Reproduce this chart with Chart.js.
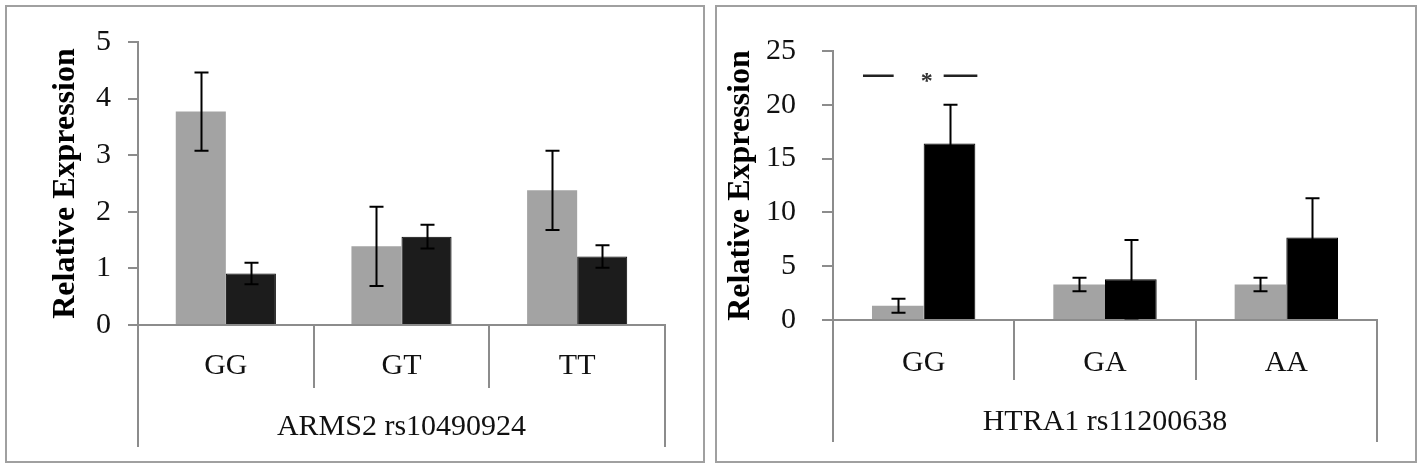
<!DOCTYPE html>
<html>
<head>
<meta charset="utf-8">
<script src="https://cdn.jsdelivr.net/npm/chart.js@4.4.1/dist/chart.umd.min.js"></script>
<style>
  html, body { margin: 0; padding: 0; background: #fff; }
  body { width: 1418px; height: 469px; position: relative; overflow: hidden; }
  .panel { position: absolute; top: 5px; height: 458px; border: 2px solid #a0a0a0; box-sizing: border-box; }
  #panelL { left: 5px; width: 700px; }
  #panelR { left: 715px; width: 702px; }
  canvas { display: block; }
</style>
</head>
<body>
<div class="panel" id="panelL"><canvas id="chartL" width="696" height="454"></canvas></div>
<div class="panel" id="panelR"><canvas id="chartR" width="698" height="454"></canvas></div>
<script>
// ---- data ----
const genotypesL = ['GG', 'GT', 'TT'];
const greyL = [3.77, 1.39, 2.38];
const greyErrL = [0.69, 0.70, 0.70];
const blackL = [0.91, 1.56, 1.21];
const blackErrL = [0.19, 0.21, 0.20];
const ticksL = [0, 1, 2, 3, 4, 5];

const genotypesR = ['GG', 'GA', 'AA'];
const greyR = [1.33, 3.30, 3.30];
const greyErrR = [0.65, 0.62, 0.62];
const blackR = [16.4, 3.78, 7.67];
const blackErrR = [3.6, 3.65, 3.65];
const ticksR = [0, 5, 10, 15, 20, 25];
const sigLevelR = 22.7;   // height of the "* " significance bracket over GG

const serif = '"Liberation Serif", "DejaVu Serif", serif';
const axisGrey = '#8c8c8c';

// error bars drawn from each dataset's errors array
const errorBars = {
  id: 'errorBars',
  afterDatasetsDraw(chart) {
    const ctx = chart.ctx;
    const y = chart.scales.y;
    chart.data.datasets.forEach((ds, i) => {
      const meta = chart.getDatasetMeta(i);
      meta.data.forEach((bar, j) => {
        const v = ds.data[j], e = ds.errors[j];
        const top = y.getPixelForValue(v + e);
        const bot = y.getPixelForValue(v - e);
        const x = Math.round(bar.x) + 0.5;
        ctx.save();
        ctx.strokeStyle = '#000';
        ctx.lineWidth = 2;
        ctx.beginPath();
        ctx.moveTo(x, top); ctx.lineTo(x, bot);
        ctx.moveTo(x - 7, top); ctx.lineTo(x + 7, top);
        ctx.moveTo(x - 7, bot); ctx.lineTo(x + 7, bot);
        ctx.stroke();
        ctx.restore();
      });
    });
  }
};

// the two outer category lines run down past the group label
const outerLines = {
  id: 'outerLines',
  afterDraw(chart, args, opts) {
    const ctx = chart.ctx;
    const xs = chart.scales.x;
    ctx.save();
    ctx.strokeStyle = axisGrey;
    ctx.lineWidth = 2;
    ctx.beginPath();
    [xs.left, xs.right].forEach(px => {
      ctx.moveTo(px, xs.top);
      ctx.lineTo(px, opts.bottom);
    });
    ctx.stroke();
    ctx.restore();
  }
};

// significance marker "— * —" over the first group
const sigMark = {
  id: 'sigMark',
  afterDatasetsDraw(chart, args, opts) {
    if (!opts.show) return;
    const ctx = chart.ctx;
    const g = chart.getDatasetMeta(0).data[0];
    const b = chart.getDatasetMeta(1).data[0];
    const yy = chart.scales.y.getPixelForValue(opts.level);
    const x0 = g.x - g.width / 2 - 9;
    const x1 = b.x + b.width / 2 + 2;
    const mid = (g.x + g.width / 2 + b.x - b.width / 2) / 2 + 3;
    ctx.save();
    ctx.strokeStyle = '#222';
    ctx.lineWidth = 2.5;
    ctx.beginPath();
    ctx.moveTo(x0, yy); ctx.lineTo(mid - 33, yy);
    ctx.moveTo(mid + 17, yy); ctx.lineTo(x1, yy);
    ctx.stroke();
    ctx.fillStyle = '#333';
    ctx.font = 'bold 24px ' + serif;
    ctx.textAlign = 'center';
    ctx.textBaseline = 'middle';
    ctx.fillText('*', mid, yy + 6);
    ctx.restore();
  }
};

function makeChart(id, cfg) {
  return new Chart(document.getElementById(id), {
    type: 'bar',
    data: {
      labels: cfg.labels,
      datasets: [
        { data: cfg.grey, errors: cfg.greyErr, backgroundColor: '#a3a3a3', borderWidth: 0,
          categoryPercentage: 0.57, barPercentage: 1.0 },
        { data: cfg.black, errors: cfg.blackErr, backgroundColor: cfg.blackFill, borderColor: '#000',
          borderWidth: 1, categoryPercentage: 0.57, barPercentage: 1.0 }
      ]
    },
    options: {
      responsive: false,
      animation: false,
      events: [],
      layout: { padding: { top: cfg.padTop, right: cfg.padRight, left: 0, bottom: 0 } },
      plugins: {
        legend: { display: false },
        tooltip: { enabled: false },
        outerLines: { bottom: cfg.outerBottom },
        sigMark: { show: cfg.sig, level: sigLevelR }
      },
      scales: {
        x: {
          offset: true,
          grid: { offset: true, drawOnChartArea: false, drawTicks: true, tickLength: cfg.catTick,
                  color: axisGrey, lineWidth: 2 },
          border: { display: true, color: axisGrey, width: 2 },
          ticks: { color: '#111', font: { family: serif, size: 30 }, padding: cfg.catPad, maxRotation: 0 },
          title: { display: true, text: cfg.group, color: '#111',
                   font: { family: serif, size: 30 }, padding: { top: 0, bottom: cfg.groupPad } },
          afterFit(s) { s.height = cfg.xHeight; }
        },
        y: {
          min: 0,
          max: cfg.ticks[cfg.ticks.length - 1],
          afterBuildTicks(s) { s.ticks = cfg.ticks.map(v => ({ value: v })); },
          grid: { drawOnChartArea: false, drawTicks: true, tickLength: cfg.yTick, color: axisGrey, lineWidth: 2 },
          border: { display: true, color: axisGrey, width: 2 },
          ticks: { color: '#111', font: { family: serif, size: 30 }, padding: cfg.yPad },
          title: { display: true, text: 'Relative Expression', color: '#000',
                   font: { family: serif, size: 32, weight: 'bold' }, padding: { top: cfg.titlePad, bottom: 0 } },
          afterFit(s) { s.width = cfg.yWidth; }
        }
      }
    },
    plugins: [errorBars, outerLines, sigMark]
  });
}

makeChart('chartL', {
  labels: genotypesL, grey: greyL, greyErr: greyErrL, black: blackL, blackErr: blackErrL,
  blackFill: '#1c1c1c', ticks: ticksL, group: 'ARMS2 rs10490924', sig: false,
  padTop: 33, padRight: 38, xHeight: 136, yWidth: 131,
  catTick: 63, catPad: -40, groupPad: 16, outerBottom: 440,
  yTick: 10, yPad: 17, titlePad: 40
});

makeChart('chartR', {
  labels: genotypesR, grey: greyR, greyErr: greyErrR, black: blackR, blackErr: blackErrR,
  blackFill: '#000', ticks: ticksR, group: 'HTRA1 rs11200638', sig: true,
  padTop: 30, padRight: 38, xHeight: 141, yWidth: 116,
  catTick: 60, catPad: -35, groupPad: 21, outerBottom: 435,
  yTick: 11, yPad: 26, titlePad: 5
});
</script>
</body>
</html>
